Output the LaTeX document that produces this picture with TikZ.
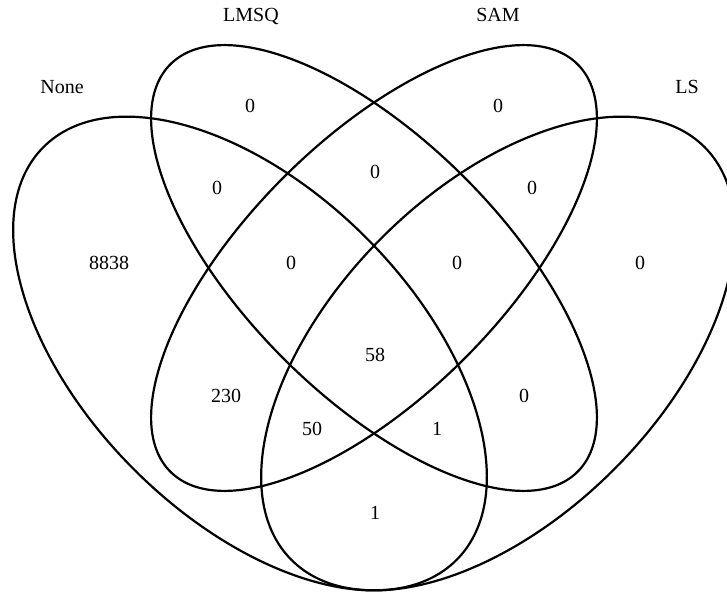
\documentclass[tikz,border=0pt]{standalone}
\usepackage{fontspec}
\setmainfont{Liberation Serif}
\begin{document}
\begin{tikzpicture}[x=1pt,y=1pt,
  setline/.style={line width=2.2pt, black},
  lbl/.style={inner sep=0pt, text height=13.5pt, text depth=0pt, font=\fontsize{20}{24}\selectfont},
  num/.style={lbl}]
\clip (0,0) rectangle (727,592);
% ellipses
\draw[setline, rotate around={-45:(250,238.5)}] (250,238.5) ellipse [x radius=292, y radius=164];
\draw[setline, rotate around={-45:(374,324)}] (374,324) ellipse [x radius=288, y radius=128];
\draw[setline, rotate around={45:(374,324)}] (374,324) ellipse [x radius=288, y radius=128];
\draw[setline, rotate around={45:(498,238.5)}] (498,238.5) ellipse [x radius=292, y radius=164];
% category labels
\node[lbl] (cNone) at (62,505) {None};
\node[lbl] (cLMSQ) at (251,577) {LMSQ};
\node[lbl] (cSAM) at (498,577) {SAM};
\node[lbl] (cLS) at (687,505) {LS};
% counts
\node[num] (n1) at (250,486) {0};
\node[num] (n2) at (498,486) {0};
\node[num] (n3) at (217,404) {0};
\node[num] (n4) at (375,420) {0};
\node[num] (n5) at (532,404) {0};
\node[num] (n6) at (109,329) {8838};
\node[num] (n7) at (291,329) {0};
\node[num] (n8) at (457,329) {0};
\node[num] (n9) at (640,329) {0};
\node[num] (n10) at (375,237) {58};
\node[num] (n11) at (226,196) {230};
\node[num] (n12) at (524,196) {0};
\node[num] (n13) at (312,163) {50};
\node[num] (n14) at (437,163) {1};
\node[num] (n15) at (375,79) {1};
\end{tikzpicture}
\end{document}
